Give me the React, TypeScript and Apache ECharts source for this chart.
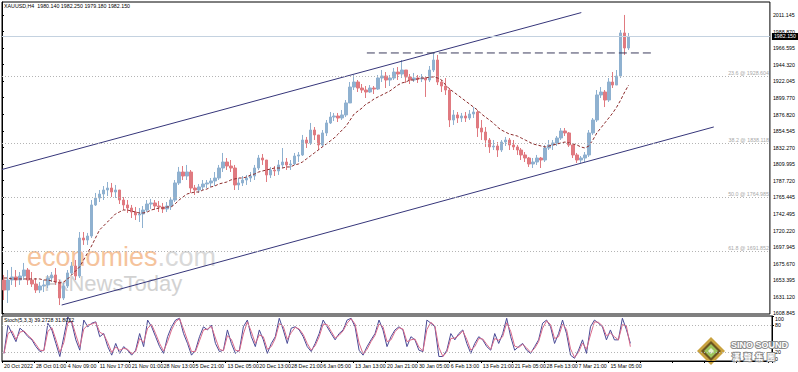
import React, { useEffect, useRef } from "react";
import * as echarts from "echarts";

const FONT = "Liberation Sans";
const categoryCount = 193;

const dateLabels = [
  "20 Oct 2022", "28 Oct 01:00", "4 Nov 09:00", "11 Nov 17:00", "21 Nov 01:00",
  "28 Nov 13:00", "5 Dec 21:00", "13 Dec 05:00", "20 Dec 13:00", "28 Dec 21:00",
  "6 Jan 05:00", "13 Jan 13:00", "20 Jan 21:00", "30 Jan 05:00", "6 Feb 13:00",
  "13 Feb 21:00", "21 Feb 05:00", "28 Feb 13:00", "7 Mar 21:00", "15 Mar 05:00",
];

// [open, close, low, high]
const candles: number[][] = [
  [1653.4,1639.9,1626.4,1660.2],[1639.9,1653.4,1622.4,1666.9],[1653.4,1657.5,1646.7,1671.0],[1657.5,1653.4,1644.0,1666.9],
  [1653.4,1658.8,1646.7,1664.2],[1658.8,1666.9,1653.4,1676.4],[1666.9,1653.4,1646.7,1669.6],[1653.4,1648.0,1644.0,1664.2],
  [1648.0,1639.9,1635.9,1656.1],[1639.9,1645.3,1635.9,1650.7],[1645.3,1646.7,1637.2,1653.4],[1646.7,1656.1,1642.6,1660.2],
  [1656.1,1660.2,1650.7,1664.2],[1660.2,1650.7,1646.7,1669.6],[1650.7,1629.1,1619.6,1653.4],[1629.1,1645.3,1626.4,1649.4],
  [1645.3,1662.9,1642.6,1666.9],[1662.9,1672.3,1660.2,1677.7],[1672.3,1658.8,1653.4,1680.4],[1658.8,1710.1,1656.1,1718.2],
  [1710.1,1707.4,1700.7,1718.2],[1707.4,1712.8,1700.7,1716.9],[1712.8,1754.7,1710.1,1761.4],[1754.7,1764.1,1753.3,1770.9],
  [1764.1,1769.5,1758.7,1774.9],[1769.5,1774.9,1761.4,1780.3],[1774.9,1777.6,1766.8,1785.7],[1777.6,1772.2,1765.5,1784.4],
  [1772.2,1774.9,1764.1,1781.7],[1774.9,1761.4,1756.0,1774.9],[1761.4,1754.7,1747.9,1765.5],[1754.7,1750.6,1743.9,1761.4],
  [1750.6,1745.2,1737.1,1754.7],[1745.2,1741.2,1734.4,1752.0],[1741.2,1742.5,1731.7,1750.6],[1742.5,1747.9,1723.6,1753.3],
  [1747.9,1756.0,1745.2,1761.4],[1756.0,1757.4,1749.3,1762.8],[1757.4,1753.3,1747.9,1761.4],[1753.3,1752.0,1745.2,1760.1],
  [1752.0,1749.3,1743.9,1757.4],[1749.3,1753.3,1745.2,1758.7],[1753.3,1761.4,1747.9,1764.1],[1761.4,1784.4,1758.7,1788.4],
  [1784.4,1799.2,1781.7,1806.0],[1799.2,1793.8,1788.4,1807.3],[1793.8,1799.2,1788.4,1808.7],[1799.2,1777.6,1770.9,1801.9],
  [1777.6,1774.9,1768.2,1781.7],[1774.9,1779.0,1770.9,1783.0],[1779.0,1783.0,1774.9,1788.4],[1783.0,1784.4,1777.6,1788.4],
  [1784.4,1787.1,1779.0,1791.1],[1787.1,1791.1,1780.3,1799.2],[1791.1,1804.6,1788.4,1808.7],[1804.6,1812.7,1799.2,1824.9],
  [1812.7,1807.3,1801.9,1818.1],[1807.3,1804.6,1799.2,1815.4],[1804.6,1781.7,1774.9,1808.7],[1781.7,1784.4,1774.9,1791.1],
  [1784.4,1788.4,1780.3,1793.8],[1788.4,1791.1,1781.7,1795.2],[1791.1,1793.8,1785.7,1799.2],[1793.8,1804.6,1788.4,1808.7],
  [1804.6,1818.1,1801.9,1822.2],[1818.1,1815.4,1808.7,1823.5],[1815.4,1795.2,1785.7,1815.4],[1795.2,1801.9,1791.1,1806.0],
  [1801.9,1800.6,1793.8,1807.3],[1800.6,1808.7,1795.2,1815.4],[1808.7,1812.7,1804.6,1831.6],[1812.7,1808.7,1801.9,1818.1],
  [1808.7,1810.0,1801.9,1815.4],[1810.0,1820.8,1808.7,1824.9],[1820.8,1822.2,1812.7,1826.2],[1822.2,1842.4,1820.8,1849.2],
  [1842.4,1838.4,1831.6,1846.5],[1838.4,1855.9,1835.7,1865.4],[1855.9,1849.2,1842.4,1859.9],[1849.2,1835.7,1828.9,1849.2],
  [1835.7,1851.9,1833.0,1855.9],[1851.9,1865.4,1847.8,1869.4],[1865.4,1873.4,1864.0,1880.2],[1873.4,1874.8,1868.0,1878.9],
  [1874.8,1872.1,1866.7,1878.9],[1872.1,1876.2,1869.4,1882.9],[1876.2,1892.4,1873.4,1896.4],[1892.4,1913.9,1892.4,1920.7],
  [1913.9,1920.7,1909.9,1930.2],[1920.7,1912.6,1907.2,1923.4],[1912.6,1909.9,1905.9,1918.0],[1909.9,1907.2,1899.1,1915.3],
  [1907.2,1912.6,1905.9,1916.6],[1912.6,1911.2,1904.5,1915.3],[1911.2,1926.1,1909.9,1930.2],[1926.1,1928.8,1920.7,1936.9],
  [1928.8,1923.4,1912.6,1934.2],[1923.4,1926.1,1915.3,1930.2],[1926.1,1934.2,1923.4,1939.6],[1934.2,1931.5,1923.4,1940.9],
  [1931.5,1936.9,1926.1,1950.4],[1936.9,1927.5,1919.4,1936.9],[1927.5,1923.4,1918.0,1931.5],[1923.4,1926.1,1920.7,1932.9],
  [1926.1,1924.8,1919.4,1930.2],[1924.8,1926.1,1920.7,1931.5],[1926.1,1923.4,1900.5,1928.8],[1923.4,1936.9,1920.7,1942.3],
  [1936.9,1950.4,1934.2,1959.9],[1950.4,1920.7,1916.6,1957.2],[1920.7,1915.3,1907.2,1923.4],[1915.3,1909.9,1903.2,1926.1],
  [1909.9,1869.4,1859.9,1912.6],[1869.4,1876.2,1862.7,1882.9],[1876.2,1872.1,1865.4,1880.2],[1872.1,1874.8,1866.7,1878.9],
  [1874.8,1872.1,1866.7,1880.2],[1872.1,1877.5,1869.4,1882.9],[1877.5,1880.2,1872.1,1886.9],[1880.2,1858.6,1846.5,1882.9],
  [1858.6,1853.2,1842.4,1869.4],[1853.2,1842.4,1833.0,1859.9],[1842.4,1833.0,1824.9,1845.1],[1833.0,1834.3,1828.9,1842.4],
  [1834.3,1828.9,1819.5,1839.7],[1828.9,1839.7,1826.2,1842.4],[1839.7,1842.4,1834.3,1846.5],[1842.4,1835.7,1828.9,1845.1],
  [1835.7,1833.0,1828.9,1842.4],[1833.0,1828.9,1822.2,1835.7],[1828.9,1822.2,1815.4,1831.6],[1822.2,1818.1,1812.7,1826.2],
  [1818.1,1810.0,1806.0,1819.5],[1810.0,1812.7,1804.6,1818.1],[1812.7,1818.1,1808.7,1822.2],[1818.1,1815.4,1804.6,1819.5],
  [1815.4,1831.6,1812.7,1835.7],[1831.6,1835.7,1828.9,1842.4],[1835.7,1838.4,1828.9,1842.4],[1838.4,1845.1,1834.3,1847.8],
  [1845.1,1854.6,1842.4,1858.6],[1854.6,1851.9,1847.8,1858.6],[1851.9,1835.7,1833.0,1853.2],[1835.7,1822.2,1818.1,1835.7],
  [1822.2,1815.4,1811.4,1824.9],[1815.4,1818.1,1811.4,1820.8],[1818.1,1822.2,1812.7,1826.2],[1822.2,1851.9,1819.5,1855.9],
  [1851.9,1869.4,1849.2,1872.1],[1869.4,1903.2,1866.7,1909.9],[1903.2,1907.2,1899.1,1913.9],[1907.2,1896.4,1886.9,1909.9],
  [1896.4,1920.7,1893.7,1926.1],[1920.7,1916.6,1912.6,1934.2],[1916.6,1928.8,1916.6,1936.9],[1928.8,1986.9,1926.1,1990.9],
  [1986.9,1966.6,1957.2,2011.2],[1966.6,1982.15,1963.9,1986.9],
];

const maValues = [
  1656.1,1656.1,1654.8,1654.8,1654.8,1654.8,1654.8,1654.8,1654.8,1654.8,
  1653.4,1653.4,1652.1,1650.7,1649.4,1650.7,1654.8,1660.2,1665.6,1671.0,
  1680.4,1689.9,1699.3,1710.1,1720.9,1726.3,1731.7,1737.1,1742.5,1745.2,
  1747.9,1747.9,1746.6,1745.2,1743.9,1743.9,1745.2,1747.9,1749.3,1750.6,
  1750.6,1752.0,1752.0,1756.0,1761.4,1765.5,1769.5,1770.9,1772.2,1772.2,
  1774.9,1776.2,1779.0,1780.3,1783.0,1784.4,1785.7,1788.4,1789.8,1791.1,
  1791.1,1792.5,1795.2,1796.5,1799.2,1800.6,1801.9,1803.3,1804.6,1804.6,
  1804.6,1806.0,1806.0,1808.7,1810.0,1812.7,1816.8,1820.8,1824.9,1828.9,
  1833.0,1837.0,1841.1,1845.1,1850.5,1855.9,1861.3,1869.4,1877.5,1881.6,
  1885.6,1891.0,1893.7,1897.8,1900.5,1903.2,1905.9,1908.6,1912.6,1916.6,
  1919.4,1920.7,1923.4,1923.4,1924.8,1926.1,1926.1,1927.5,1927.5,1926.1,
  1923.4,1916.6,1911.2,1907.2,1903.2,1899.1,1895.0,1891.0,1886.9,1882.9,
  1877.5,1873.4,1869.4,1865.4,1859.9,1855.9,1853.2,1850.5,1849.2,1847.8,
  1845.1,1842.4,1839.7,1837.0,1835.7,1834.3,1833.0,1834.3,1835.7,1837.0,
  1838.4,1839.7,1838.4,1837.0,1835.7,1833.0,1831.6,1834.3,1842.4,1851.9,
  1858.6,1865.4,1872.1,1878.9,1886.9,1896.4,1907.2,1916.6,
];

const stochK = [
  17,80,61,43,73,65,54,47,32,21,24,84,69,39,10,54,98,84,47,24,
  91,76,84,87,54,61,32,13,39,17,32,24,13,24,61,32,91,76,54,32,
  17,54,76,91,95,61,39,13,24,54,76,69,80,39,21,24,69,39,17,24,
  76,91,54,32,69,47,17,39,54,95,69,39,73,76,69,54,32,21,39,61,
  91,76,61,47,61,69,91,95,76,24,13,32,47,61,91,69,32,54,69,76,
  69,32,54,47,24,21,91,84,76,10,10,24,61,47,61,69,39,17,39,54,
  47,32,24,61,39,61,95,54,24,32,39,24,17,32,47,84,91,76,39,61,
  91,61,13,6,24,47,17,76,91,84,76,47,69,47,47,95,70,39.27,
];

const stochD = [
  17,61,67,48,64,67,57,49,37,24,23,66,74,48,19,41,85,88,58,31,
  71,80,82,86,64,59,41,19,31,24,28,26,16,21,50,41,73,81,61,39,
  22,43,69,87,94,71,46,21,21,45,69,71,77,51,26,23,56,48,24,22,
  60,87,65,39,58,54,26,32,50,83,77,48,63,75,71,59,39,24,34,54,
  82,81,66,51,57,67,84,94,82,40,16,26,43,57,82,76,43,47,65,74,
  71,43,47,49,31,22,70,86,78,30,10,20,50,51,57,67,48,24,32,50,
  49,37,26,50,46,54,85,66,33,30,37,29,19,28,43,73,89,81,50,54,
  82,70,27,8,19,40,26,58,87,86,78,56,62,54,47,81,78,31.8,
];

const yTickValues = [
  1608.845, 1631.12, 1653.395, 1675.67, 1697.945, 1720.22, 1742.495, 1765.445, 1787.72, 1809.995,
  1832.27, 1854.545, 1876.82, 1899.77, 1922.045, 1944.32, 1966.595, 1988.87, 2011.145,
];
const stochTicks = [0, 20, 80, 100];
const stochLevels = [80, 20];

const fibLevels = ["23.6", "38.2", "50.0", "61.8"];
const fibPrices = [1928.604, 1838.118, 1764.985, 1691.852];

// trend lines: [bar position, price]
const channelUpper = [[0, 1802.6], [145.6, 2014.4]];
const channelLower = [[15.0, 1619.6], [178.9, 1860.0]];
const resistanceLine = [[91.7, 1959.9], [163.7, 1959.9]];

const lastPrice = 1982.15;
const headerText = "XAUUSD,H4  1980.140 1982.250 1979.180 1982.150";
const stochText = "Stoch(5,3,3) 39.2728 31.8022";

export default function App() {
  const ref = useRef<HTMLDivElement>(null);
  useEffect(() => {
    document.body.style.margin = "0";
    const chart = echarts.init(ref.current as HTMLDivElement, null, { renderer: "svg" });
    const cats = Array.from({ length: categoryCount }, (_, i) => String(i));
    const axisBlack = { show: true, lineStyle: { color: "#000", width: 1 } };
    const FS = 5.3;

    const option: any = {
      animation: false,
      backgroundColor: "#fff",
      textStyle: { fontFamily: FONT },
      grid: [
        { left: 2, top: 2, width: 770, height: 312, show: true, borderColor: "#000", borderWidth: 1, backgroundColor: "transparent" },
        { left: 2, top: 316, width: 770, height: 45, show: true, borderColor: "#000", borderWidth: 1, backgroundColor: "transparent" },
      ],
      xAxis: [
        { type: "category", gridIndex: 0, data: cats, boundaryGap: true, show: false },
        { type: "value", gridIndex: 0, min: 0, max: categoryCount, show: false },
        {
          type: "category", gridIndex: 1, data: cats, boundaryGap: true,
          axisLine: axisBlack,
          axisTick: { show: true, interval: 7, length: 2, lineStyle: { color: "#000" } },
          axisLabel: {
            interval: 7, fontSize: FS, color: "#000", align: "left", margin: 2, fontFamily: FONT,
            hideOverlap: false, showMinLabel: true,
            formatter: (_v: string, i: number) => dateLabels[Math.round(i / 8)] ?? "",
          },
          splitLine: { show: false },
        },
      ],
      yAxis: [
        {
          type: "value", gridIndex: 0, position: "right", min: 1607.5, max: 2028.7, scale: true,
          splitLine: { show: false }, axisLine: axisBlack,
          axisTick: { show: true, length: 2, customValues: yTickValues, lineStyle: { color: "#000" } },
          axisLabel: {
            customValues: yTickValues, fontSize: FS, color: "#000", margin: 3, fontFamily: FONT,
            formatter: (v: number) => v.toFixed(3),
          },
        },
        {
          type: "value", gridIndex: 1, position: "right", min: 0, max: 100,
          splitLine: { show: false }, axisLine: axisBlack,
          axisTick: { show: true, length: 2, customValues: stochTicks, lineStyle: { color: "#000" } },
          axisLabel: {
            customValues: stochTicks, fontSize: FS, color: "#000", margin: 3, fontFamily: FONT,
            verticalAlignMinLabel: "bottom", verticalAlignMaxLabel: "top",
          },
        },
      ],
      graphic: [
        {
          type: "text", left: 27, top: 243, z: 1, silent: true,
          style: {
            text: "{a|economies}{b|.com}",
            rich: {
              a: { fontSize: 27, fontFamily: FONT, fill: "#f5c39c" },
              b: { fontSize: 27, fontFamily: FONT, fill: "#d9d9d9" },
            },
          },
        },
        {
          type: "text", left: 44, top: 272, z: 1, silent: true,
          style: { text: "FxNewsToday", fontSize: 22, fontFamily: FONT, fill: "#d2d2d2" },
        },
        { type: "text", left: 4, top: 3, z: 10, style: { text: headerText, fontSize: FS, fontFamily: FONT, fill: "#000" } },
        { type: "text", left: 4, top: 317, z: 10, style: { text: stochText, fontSize: FS, fontFamily: FONT, fill: "#000" } },
        {
          type: "group", z: 20,
          children: [
            { type: "polygon", shape: { points: [[711, 337], [725, 351], [711, 365], [697, 351]] }, style: { fill: "#c9a23f" } },
            { type: "polygon", shape: { points: [[711, 341], [721, 351], [711, 361], [701, 351]] }, style: { fill: "#6b5520" } },
            { type: "polygon", shape: { points: [[711, 344], [718, 351], [711, 358], [704, 351]] }, style: { fill: "#9cc45c" } },
            { type: "polygon", shape: { points: [[711, 348], [714, 351], [711, 354], [708, 351]] }, style: { fill: "#e8f0d0" } },
          ],
        },
        {
          type: "text", left: 730, top: 339, z: 20,
          style: { text: "SINO SOUND", fontSize: 9, fontWeight: "bold", fontFamily: FONT, fill: "#fff", stroke: "#8c8c8c", lineWidth: 2 },
        },
        {
          type: "text", left: 731, top: 351, z: 20,
          style: { text: "漢  聲  集  團", fontSize: 8, fontWeight: "bold", fontFamily: "Noto Sans CJK TC", fill: "#fff", stroke: "#8c8c8c", lineWidth: 2 },
        },
      ],
      series: [
        {
          type: "candlestick", xAxisIndex: 0, yAxisIndex: 0, data: candles, barWidth: 3,
          itemStyle: { color: "#8fb1d0", color0: "#e07a80", borderColor: "#8fb1d0", borderColor0: "#e07a80", borderWidth: 1 },
          markLine: {
            silent: true, symbol: "none",
            data: [
              ...fibPrices.map((p, i) => ({
                yAxis: p,
                lineStyle: { color: "#b4b4b4", type: [1, 2], width: 1 },
                label: { show: true, position: "insideEndTop", formatter: `${fibLevels[i]} @ ${p.toFixed(3)}`, fontSize: FS, color: "#a8a8a8", distance: 1, fontFamily: FONT },
              })),
              {
                yAxis: lastPrice,
                lineStyle: { color: "#c4d2e0", type: "solid", width: 1 },
                label: { show: true, position: "end", formatter: lastPrice.toFixed(3), fontSize: FS, color: "#fff", backgroundColor: "#000", padding: [1, 2], distance: 2, fontFamily: FONT },
              },
            ],
          },
        },
        {
          type: "line", xAxisIndex: 0, yAxisIndex: 0, data: maValues, showSymbol: false, symbol: "none",
          lineStyle: { color: "#8b2b2b", width: 1, type: [3, 2] },
        },
        {
          type: "line", xAxisIndex: 1, yAxisIndex: 0, data: channelUpper, showSymbol: false, symbol: "none",
          lineStyle: { color: "#36367a", width: 1 },
        },
        {
          type: "line", xAxisIndex: 1, yAxisIndex: 0, data: channelLower, showSymbol: false, symbol: "none",
          lineStyle: { color: "#36367a", width: 1 },
        },
        {
          type: "line", xAxisIndex: 1, yAxisIndex: 0, data: resistanceLine, showSymbol: false, symbol: "none",
          lineStyle: { color: "#3c3c5c", width: 1, type: [8, 4] },
        },
        {
          type: "line", xAxisIndex: 2, yAxisIndex: 1, data: stochK, showSymbol: false, symbol: "none",
          lineStyle: { color: "#4a4a96", width: 1 },
          markLine: {
            silent: true, symbol: "none", label: { show: false },
            lineStyle: { color: "#b4b4b4", type: [1, 2], width: 1 },
            data: stochLevels.map((v) => ({ yAxis: v })),
          },
        },
        {
          type: "line", xAxisIndex: 2, yAxisIndex: 1, data: stochD, showSymbol: false, symbol: "none",
          lineStyle: { color: "#d86a8a", width: 1 },
        },
      ],
    };
    chart.setOption(option);
    return () => chart.dispose();
  }, []);
  return <div ref={ref} style={{ width: 798, height: 372 }} />;
}
